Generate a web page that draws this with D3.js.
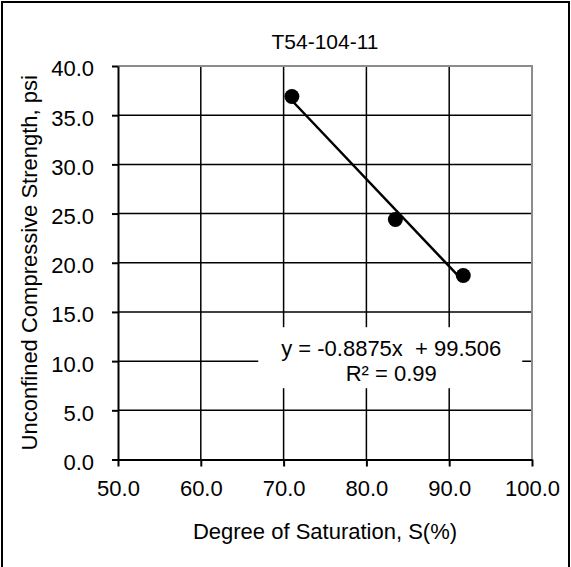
<!DOCTYPE html>
<html>
<head>
<meta charset="utf-8">
<script src="https://cdn.jsdelivr.net/npm/d3@7"></script>
<style>
  body { margin: 0; background: #fff; }
  svg { display: block; font-family: "Liberation Sans", Arial, sans-serif; }
  .grid line { stroke: #000; stroke-width: 1.5; }
  .tick text { font-size: 22px; fill: #000; }
</style>
</head>
<body>
<div id="chart"></div>
<script>
// measured points
var saturation = [71.0, 83.5, 91.7];
var strength = [36.9, 24.4, 18.7];
var slope = -0.8875, intercept = 99.506, r2 = 0.99;
var xTicks = [50, 60, 70, 80, 90, 100];
var yTicks = [0, 5, 10, 15, 20, 25, 30, 35, 40];
var title = 'T54-104-11';

var outerWidth = 571, outerHeight = 567;
var margin = {top: 66, right: 39, bottom: 107.5, left: 118};
var width = outerWidth - margin.left - margin.right;
var height = outerHeight - margin.top - margin.bottom;

var svg = d3.select('#chart').append('svg')
    .attr('width', outerWidth)
    .attr('height', outerHeight);

// outer frame
svg.append('rect')
    .attr('x', 2).attr('y', 2)
    .attr('width', outerWidth - 4).attr('height', outerHeight + 10)
    .attr('fill', 'none').attr('stroke', '#000').attr('stroke-width', 2);

var g = svg.append('g').attr('transform', 'translate(' + margin.left + ',' + margin.top + ')');

var x = d3.scaleLinear().domain([50, 100]).range([0, width]);
var y = d3.scaleLinear().domain([0, 40]).range([height, 0]);

// gridlines
var grid = g.append('g').attr('class', 'grid');
grid.selectAll('.hg').data(yTicks.slice(1, -1)).enter().append('line')
    .attr('x1', 0).attr('x2', width)
    .attr('y1', d => y(d)).attr('y2', d => y(d));
grid.selectAll('.vg').data(xTicks.slice(1, -1)).enter().append('line')
    .attr('y1', 0).attr('y2', height)
    .attr('x1', d => x(d)).attr('x2', d => x(d));

// top / right border in gray
g.append('path')
    .attr('d', 'M0,0H' + width + 'V' + height)
    .attr('fill', 'none').attr('stroke', '#8c8c8c').attr('stroke-width', 2);

// axes
var xAxis = g.append('g')
    .attr('transform', 'translate(0,' + height + ')')
    .call(d3.axisBottom(x).tickValues(xTicks).tickFormat(d3.format('.1f')).tickSizeInner(7).tickSizeOuter(0).tickPadding(14));
var yAxis = g.append('g')
    .call(d3.axisLeft(y).tickValues(yTicks).tickFormat(d3.format('.1f')).tickSizeInner(6).tickSizeOuter(0).tickPadding(18));
[xAxis, yAxis].forEach(function(a) {
  a.attr('font-family', null).attr('font-size', null);
  a.selectAll('line, path').attr('stroke', '#000').attr('stroke-width', 2);
});
yAxis.selectAll('.tick text').attr('dy', '0.45em');

// trendline
var xs = d3.extent(saturation);
g.append('line')
    .attr('x1', x(xs[0])).attr('y1', y(slope * xs[0] + intercept))
    .attr('x2', x(xs[1])).attr('y2', y(slope * xs[1] + intercept))
    .attr('stroke', '#000').attr('stroke-width', 2.5);

// points
g.selectAll('.pt').data(saturation).enter().append('circle')
    .attr('cx', d => x(d))
    .attr('cy', (d, i) => y(strength[i]))
    .attr('r', 7.5)
    .attr('fill', '#000');

// equation label
var eq = g.append('g').attr('transform', 'translate(' + x(83.0) + ',' + y(10.5) + ')');
eq.append('rect')
    .attr('x', -133).attr('y', -29).attr('width', 264).attr('height', 61)
    .attr('fill', '#fff');
eq.append('text')
    .attr('text-anchor', 'middle').attr('font-size', 22)
    .attr('xml:space', 'preserve')
    .text('y = ' + slope + 'x  + ' + intercept);
eq.append('text')
    .attr('text-anchor', 'middle').attr('font-size', 22).attr('y', 25)
    .text('R\u00b2 = ' + r2);

// titles
svg.append('text')
    .attr('x', margin.left + width / 2).attr('y', 49)
    .attr('text-anchor', 'middle').attr('font-size', 21)
    .text(title);
svg.append('text')
    .attr('x', margin.left + width / 2).attr('y', 539)
    .attr('text-anchor', 'middle').attr('font-size', 22)
    .text('Degree of Saturation, S(%)');
svg.append('text')
    .attr('transform', 'translate(37,' + (margin.top + height / 2) + ') rotate(-90)')
    .attr('text-anchor', 'middle').attr('font-size', 22)
    .text('Unconfined Compressive Strength, psi');
</script>
</body>
</html>
